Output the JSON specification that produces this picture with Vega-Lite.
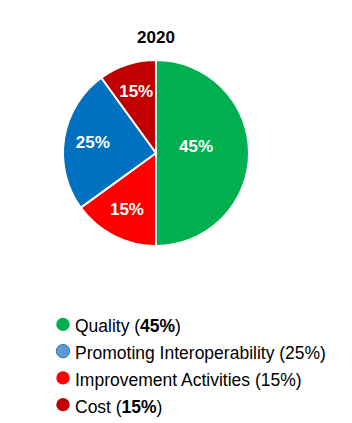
{
  "$schema": "https://vega.github.io/schema/vega-lite/v6.json",
  "padding": {"left": 0, "top": 29, "right": 0, "bottom": 0},
  "spacing": 61,
  "config": {"view": {"stroke": null}, "font": "Liberation Sans"},
  "datasets": {
    "slices": [
      {"category": "Quality", "order": 1, "share": 50, "label": "45%"},
      {"category": "Improvement Activities", "order": 2, "share": 15, "label": "15%"},
      {"category": "Promoting Interoperability", "order": 3, "share": 25, "label": "25%"},
      {"category": "Cost", "order": 4, "share": 10, "label": "15%"}
    ],
    "legend": [
      {"category": "Quality", "prefix": "Quality (", "bold": "45%", "suffix": ")"},
      {"category": "Promoting Interoperability", "prefix": "Promoting Interoperability (25%)", "bold": "", "suffix": ""},
      {"category": "Improvement Activities", "prefix": "Improvement Activities (15%)", "bold": "", "suffix": ""},
      {"category": "Cost", "prefix": "Cost (", "bold": "15%", "suffix": ")"}
    ]
  },
  "resolve": {"scale": {"color": "independent", "fill": "independent"}},
  "vconcat": [
    {
      "width": 312,
      "height": 190,
      "title": {"text": "2020", "fontSize": 17, "fontWeight": "bold", "offset": 9, "color": "#000000"},
      "data": {"name": "slices"},
      "encoding": {
        "theta": {"field": "share", "type": "quantitative", "stack": true},
        "order": {"field": "order", "type": "quantitative", "sort": "ascending"}
      },
      "layer": [
        {
          "mark": {"type": "arc", "outerRadius": 93, "stroke": "white", "strokeWidth": 2},
          "encoding": {
            "color": {
              "field": "category",
              "type": "nominal",
              "scale": {
                "domain": ["Quality", "Improvement Activities", "Promoting Interoperability", "Cost"],
                "range": ["#00B050", "#FF0000", "#0070C0", "#C00000"]
              },
              "legend": null
            }
          }
        },
        {
          "mark": {"type": "text", "radius": 40, "fontSize": 17, "fontWeight": "bold", "baseline": "middle", "color": "white", "dy": -6},
          "encoding": {
            "text": {"condition": {"test": "datum.category === 'Quality'", "field": "label"}, "value": ""}
          }
        },
        {
          "mark": {"type": "text", "radius": 64, "fontSize": 17, "fontWeight": "bold", "baseline": "middle", "color": "white"},
          "encoding": {
            "text": {"condition": {"test": "datum.category !== 'Quality'", "field": "label"}, "value": ""}
          }
        }
      ]
    },
    {
      "width": 352,
      "height": 107,
      "data": {"name": "legend"},
      "encoding": {
        "y": {
          "field": "category",
          "type": "nominal",
          "axis": null,
          "scale": {"domain": ["Quality", "Promoting Interoperability", "Improvement Activities", "Cost"]}
        }
      },
      "layer": [
        {
          "mark": {"type": "point", "filled": true, "shape": "circle", "size": 180, "opacity": 1, "strokeWidth": 1},
          "encoding": {
            "x": {"value": 63},
            "fill": {
              "field": "category",
              "type": "nominal",
              "scale": {
                "domain": ["Quality", "Promoting Interoperability", "Improvement Activities", "Cost"],
                "range": ["#00B050", "#5B9BD5", "#FF0000", "#C00000"]
              },
              "legend": null
            },
            "stroke": {"condition": {"test": "datum.category === 'Promoting Interoperability'", "value": "#41719C"}, "value": "transparent"}
          }
        },
        {
          "mark": {"type": "text", "align": "left", "baseline": "middle", "fontSize": 17.5, "dy": 3, "color": "#000000"},
          "encoding": {"x": {"value": 75}, "text": {"field": "prefix"}}
        },
        {
          "transform": [{"filter": "datum.category === 'Quality'"}],
          "mark": {"type": "text", "align": "left", "baseline": "middle", "fontSize": 17.5, "fontWeight": "bold", "dy": 3, "color": "#000000"},
          "encoding": {"x": {"value": 140}, "text": {"field": "bold"}}
        },
        {
          "transform": [{"filter": "datum.category === 'Quality'"}],
          "mark": {"type": "text", "align": "left", "baseline": "middle", "fontSize": 17.5, "dy": 3, "color": "#000000"},
          "encoding": {"x": {"value": 175}, "text": {"field": "suffix"}}
        },
        {
          "transform": [{"filter": "datum.category === 'Cost'"}],
          "mark": {"type": "text", "align": "left", "baseline": "middle", "fontSize": 17.5, "fontWeight": "bold", "dy": 3, "color": "#000000"},
          "encoding": {"x": {"value": 121.5}, "text": {"field": "bold"}}
        },
        {
          "transform": [{"filter": "datum.category === 'Cost'"}],
          "mark": {"type": "text", "align": "left", "baseline": "middle", "fontSize": 17.5, "dy": 3, "color": "#000000"},
          "encoding": {"x": {"value": 156.5}, "text": {"field": "suffix"}}
        }
      ]
    }
  ]
}
